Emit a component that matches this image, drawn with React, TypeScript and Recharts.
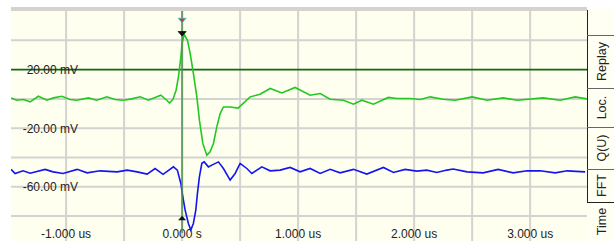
import React from "react";
import { LineChart, Line, XAxis, YAxis, ReferenceLine, ReferenceDot } from "recharts";

// time in microseconds, voltage in mV
const greenTime = [
  -1.474, -1.425, -1.368, -1.31, -1.239, -1.166, -1.109, -1.037, -0.966, -0.908, -0.808, -0.735,
  -0.649, -0.578, -0.506, -0.434, -0.362, -0.291, -0.233, -0.184, -0.132, -0.108, -0.078, -0.052,
  -0.032, -0.011, 0.0, 0.017, 0.046, 0.069, 0.097, 0.127, 0.149, 0.178, 0.213, 0.241, 0.27, 0.299,
  0.328, 0.356, 0.414, 0.483, 0.586, 0.672, 0.759, 0.859, 0.974, 1.103, 1.19, 1.276, 1.391, 1.477,
  1.549, 1.649, 1.778, 1.851, 1.966, 2.052, 2.138, 2.25, 2.353, 2.5, 2.629, 2.767, 2.888, 3.112,
  3.259, 3.388, 3.491,
];
const greenMv = [
  0.7, -0.9, -0.4, -2.0, 1.8, -0.9, 0.7, 1.8, -0.4, -0.9, 0.7, -0.9,
  1.4, -0.4, -0.9, 0.0, 1.4, -0.9, 1.0, 2.5, -0.9, -2.9, -0.2, 5.9,
  14.8, 28.4, 38.0, 44.1, 40.0, 31.2, 17.5, 1.4, -14.5, -30.2, -38.4, -36.1, -30.4, -19.1,
  -10.0, -5.5, -5.5, -6.3, 1.4, 3.2, 7.1, 4.1, 7.8, 2.5, 3.7, -0.2, -0.9, -3.6,
  -0.9, -3.6, 1.0, 0.3, 0.3, -0.4, 1.4, -0.2, -0.9, 1.4, -0.9, 0.7, -0.9, 0.7,
  -0.9, 1.4, 0.0,
];

const blueTime = [
  -1.474, -1.44, -1.371, -1.31, -1.181, -1.112, -1.026, -0.905, -0.819, -0.707, -0.56, -0.474,
  -0.388, -0.302, -0.233, -0.164, -0.075, -0.041, -0.011, 0.006, 0.026, 0.054, 0.075, 0.097,
  0.118, 0.132, 0.149, 0.17, 0.19, 0.227, 0.256, 0.313, 0.356, 0.414, 0.457, 0.5, 0.558, 0.601,
  0.687, 0.759, 0.845, 0.931, 1.017, 1.103, 1.19, 1.276, 1.362, 1.477, 1.592, 1.735, 1.822, 1.922,
  2.023, 2.109, 2.196, 2.282, 2.336, 2.457, 2.595, 2.724, 2.853, 2.974, 3.086, 3.216, 3.319, 3.474,
];
const blueMv = [
  -48.1, -50.9, -49.1, -50.7, -48.1, -49.8, -50.9, -48.1, -50.5, -49.1, -49.8, -48.6,
  -49.8, -51.3, -47.5, -51.5, -46.4, -48.6, -57.7, -66.8, -75.9, -85.0, -89.5, -85.0,
  -75.9, -64.5, -53.2, -44.0, -43.0, -46.4, -45.2, -43.0, -47.5, -55.4, -50.9, -44.0, -47.5, -50.9,
  -46.4, -49.1, -48.6, -46.8, -49.8, -47.5, -50.9, -48.1, -50.5, -48.1, -51.3, -46.8, -50.2, -48.1,
  -49.3, -48.6, -50.2, -48.6, -47.9, -49.8, -50.5, -48.1, -50.5, -49.1, -49.1, -50.5, -49.1, -49.8,
];

const xTicks = [-1, 0, 1, 2, 3];
const xTickLabels = ["-1.000 us", "0.000 s", "1.000 us", "2.000 us", "3.000 us"];
const yTicks = [20, -20, -60];
const yTickLabels = ["20.00 mV", "-20.00 mV", "-60.00 mV"];
const gridTimes = [-1, -0.5, 0, 0.5, 1, 1.5, 2, 2.5, 3];
const gridMv = [40, 20, 0, -20, -40, -60, -80];
const triggerLevel = 20;
const cursorTime = 0;
const markerTopRed = 53.7;
const markerTopBlack = 44.6;
const markerBottomBlack = -81.4;
const tabs = ["Replay", "Loc.", "Q(U)", "FFT", "Time"];

const xDomain = [-1.475, 3.49];
const yDomain = [-97, 60];

const greenData = greenTime.map((t, i) => ({ t, v: greenMv[i] }));
const blueData = blueTime.map((t, i) => ({ t, v: blueMv[i] }));

const FONT = "'Liberation Sans', Arial, sans-serif";

const xLabel = (text: string) => (props: any) => {
  const vb = props.viewBox || {};
  return (
    <text x={vb.x} y={238} textAnchor="middle" fontFamily={FONT} fontSize={12} fill="#222">
      {text}
    </text>
  );
};

const yLabel = (text: string) => (props: any) => {
  const vb = props.viewBox || {};
  return (
    <text x={78} y={vb.y + 4.5} textAnchor="end" fontFamily={FONT} fontSize={12} fill="#222">
      {text}
    </text>
  );
};

const DownTri = (color: string, stroke: string) => (props: any) => {
  const { cx, cy } = props;
  return (
    <polygon
      points={`${cx - 4},${cy - 2} ${cx + 4},${cy - 2} ${cx},${cy + 2.5}`}
      fill={color}
      stroke={stroke}
      strokeWidth={0.8}
    />
  );
};

const UpTri = (props: any) => {
  const { cx, cy } = props;
  return <polygon points={`${cx - 4},${cy + 2} ${cx + 4},${cy + 2} ${cx},${cy - 2.5}`} fill="#111" />;
};

const tabBounds = [35, 88, 127, 169, 202, 241];

export default function App() {
  return (
    <div style={{ position: "absolute", left: 0, top: 0, width: 614, height: 241, background: "#fff", overflow: "hidden" }}>
      <div style={{ position: "absolute", left: 11, top: 11, width: 576, height: 230, background: "#fffff0" }} />
      <div style={{ position: "absolute", left: 11, top: 7, width: 576, height: 4, background: "#d6d3ce" }} />
      <div style={{ position: "absolute", left: 587, top: 7, width: 27, height: 234, background: "#fffff4" }} />
      <svg style={{ position: "absolute", left: 0, top: 0 }} width={614} height={241}>
        <line x1={587.5} y1={10} x2={587.5} y2={202.5} stroke="#222" strokeWidth={1} />
        {tabBounds.slice(0, 5).map((yb, i) => (
          <line key={i} x1={587} y1={yb + 0.5} x2={614} y2={yb + 0.5} stroke={i === 4 ? "#222" : "#666"} strokeWidth={1} />
        ))}
        {tabs.map((label, i) => {
          const cy = (tabBounds[i] + tabBounds[i + 1]) / 2;
          return (
            <text
              key={label}
              x={602}
              y={cy}
              transform={`rotate(-90, 602, ${cy})`}
              textAnchor="middle"
              dominantBaseline="central"
              fontFamily={FONT}
              fontSize={12.5}
              fill="#222"
            >
              {label}
            </text>
          );
        })}
      </svg>
      <div style={{ position: "absolute", left: 0, top: 0 }}>
        <LineChart width={614} height={241} margin={{ top: 11, right: 27, bottom: 0, left: 11 }}>
          <XAxis dataKey="t" type="number" domain={xDomain} allowDataOverflow hide />
          <YAxis type="number" domain={yDomain} allowDataOverflow hide />
          {gridTimes.map((t) => {
            const idx = xTicks.indexOf(t);
            return (
              <ReferenceLine
                key={"gx" + t}
                x={t}
                stroke="#d3d3cf"
                strokeWidth={2}
                label={idx >= 0 ? xLabel(xTickLabels[idx]) : undefined}
              />
            );
          })}
          {gridMv.map((v) => {
            const idx = yTicks.indexOf(v);
            return (
              <ReferenceLine
                key={"gy" + v}
                y={v}
                stroke={v === triggerLevel ? "#0b6a0b" : "#d3d3cf"}
                strokeWidth={v === triggerLevel ? 1.6 : 2}
                label={idx >= 0 ? yLabel(yTickLabels[idx]) : undefined}
              />
            );
          })}
          <Line data={blueData} dataKey="v" type="linear" stroke="#1414f0" strokeWidth={1.6} dot={false} isAnimationActive={false} />
          <Line data={greenData} dataKey="v" type="linear" stroke="#22c822" strokeWidth={1.6} dot={false} isAnimationActive={false} />
          <ReferenceLine
            segment={[{ x: cursorTime, y: 60 }, { x: cursorTime, y: -91.5 }]}
            stroke="#4f9050"
            strokeOpacity={0.8}
            strokeWidth={2}
          />
          <ReferenceDot x={cursorTime} y={markerTopRed} shape={DownTri("#e03030", "#30c8c8")} />
          <ReferenceDot x={cursorTime} y={markerTopBlack} shape={DownTri("#111", "#111")} />
          <ReferenceDot x={cursorTime} y={markerBottomBlack} shape={UpTri} />
        </LineChart>
      </div>
    </div>
  );
}
